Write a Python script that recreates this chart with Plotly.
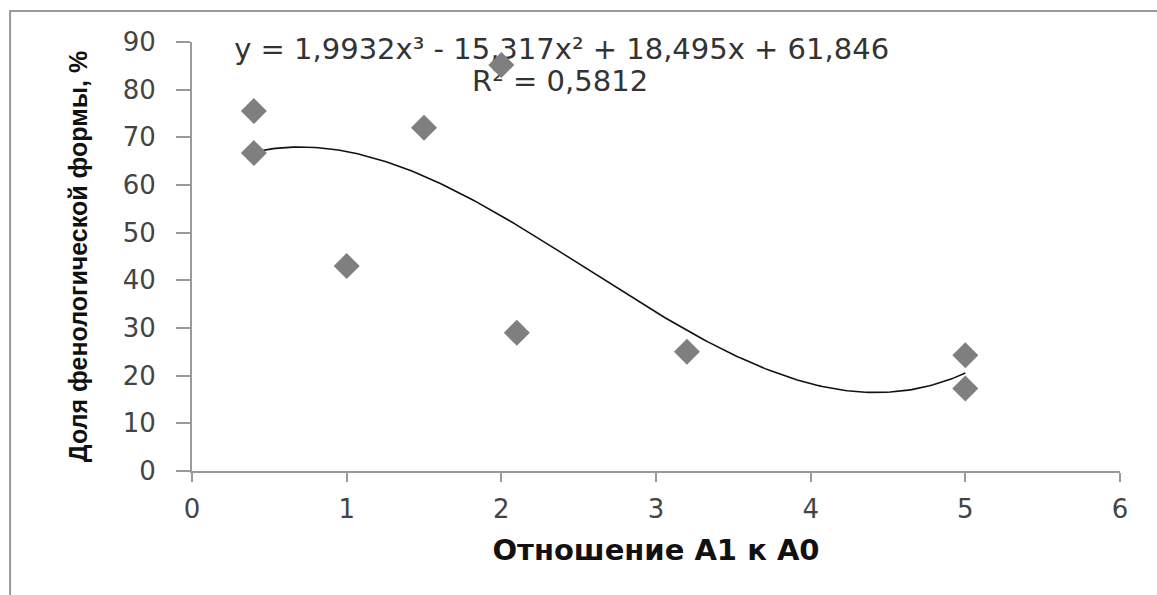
import numpy as np
import plotly.graph_objects as go

# Data
x_vals = [0.4, 0.4, 1.0, 1.5, 2.0, 2.1, 3.2, 5.0, 5.0]
y_vals = [75.5, 66.7, 43.0, 72.0, 85.2, 29.0, 25.0, 24.3, 17.3]

# Cubic trendline coefficients as printed on the chart (highest power first)
trend_coeffs = [1.9932, -15.317, 18.495, 61.846]
r_squared = "0,5812"
eq_text = "y = 1,9932x³ - 15,317x² + 18,495x + 61,846"

x_ticks = [0, 1, 2, 3, 4, 5, 6]
y_ticks = [0, 10, 20, 30, 40, 50, 60, 70, 80, 90]

x_title = "Отношение А1 к А0"
y_title = "Доля фенологической формы, %"

xs = np.linspace(min(x_vals), max(x_vals), 200)
ys = np.polyval(trend_coeffs, xs)

fig = go.Figure()
fig.add_trace(go.Scatter(x=xs, y=ys, mode="lines",
                         line=dict(color="#111111", width=1.6),
                         showlegend=False, hoverinfo="skip"))
# trendline label (drawn beneath the markers, as in the original)
fig.add_trace(go.Scatter(x=[2.39, 2.38], y=[88.0, 81.2], mode="text",
                         text=[eq_text, "R² = " + r_squared],
                         textposition="middle center", cliponaxis=False,
                         textfont=dict(family="DejaVu Sans", size=29, color="#333333"),
                         showlegend=False, hoverinfo="skip"))
fig.add_trace(go.Scatter(x=x_vals, y=y_vals, mode="markers",
                         marker=dict(symbol="diamond", size=20, color="#7f7f7f"),
                         showlegend=False))

tick_font = dict(family="DejaVu Sans", size=26, color="#444444")

fig.update_xaxes(range=[0, 6], tickvals=x_ticks, showgrid=False, zeroline=False,
                 showline=True, linecolor="#9a9a9a", linewidth=2,
                 ticks="outside", ticklen=9, tickwidth=2, tickcolor="#9a9a9a",
                 tickfont=tick_font, ticklabelstandoff=5,
                 title=dict(text=x_title, font=dict(family="DejaVu Sans", size=29,
                                                    color="#111111", weight="bold"),
                            standoff=16))
fig.update_yaxes(range=[0, 90], tickvals=y_ticks, showgrid=False, zeroline=False,
                 showline=True, linecolor="#9a9a9a", linewidth=2,
                 ticks="outside", ticklen=14, tickwidth=2, tickcolor="#9a9a9a",
                 tickfont=tick_font, ticklabelstandoff=15,
                 title=dict(text=y_title,
                            font=dict(family="Liberation Sans", size=25,
                                      color="#111111", weight="bold"),
                            standoff=28))

# outer chart border
fig.add_shape(type="rect", xref="paper", yref="paper",
              x0=-0.196, x1=1.3, y0=-0.6, y1=1.072,
              line=dict(color="#9a9a9a", width=2), fillcolor="rgba(0,0,0,0)",
              layer="below")

fig.update_layout(width=1157, height=595,
                  margin=dict(l=192, r=37, t=42, b=124),
                  paper_bgcolor="white", plot_bgcolor="white")

fig.write_html("out.html")
